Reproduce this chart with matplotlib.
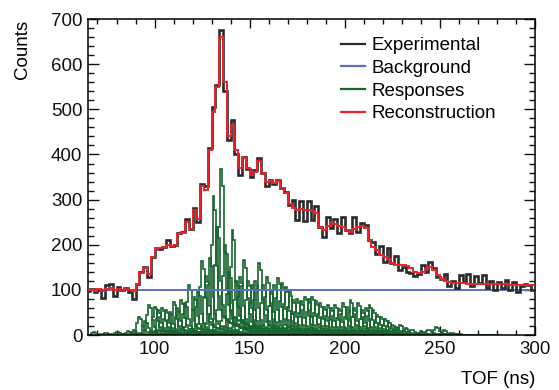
import numpy as np
import matplotlib
matplotlib.use('Agg')
import matplotlib.pyplot as plt
from matplotlib.ticker import MultipleLocator

plt.rcParams['font.family'] = ['Liberation Sans', 'DejaVu Sans']

# Experimental spectrum, 2 ns bins starting at 64 ns
exp_counts = [
    98, 102, 96, 100, 82, 110, 114, 86, 106, 100, 104, 96, 80, 112, 140, 150,
    128, 172, 192, 190, 196, 210, 198, 200, 226, 228, 258, 234, 282, 250, 334, 330,
    415, 505, 555, 676, 540, 432, 477, 400, 355, 395, 368, 350, 365, 392, 360, 330,
    344, 334, 344, 326, 318, 288, 300, 255, 298, 252, 296, 255, 285, 240, 218, 262,
    238, 258, 226, 262, 232, 226, 262, 228, 248, 244, 210, 205, 180, 198, 162, 192,
    160, 175, 145, 150, 140, 138, 130, 136, 155, 140, 162, 148, 128, 124, 135, 108,
    120, 105, 132, 118, 135, 108, 130, 115, 133, 104, 120, 100, 118, 104, 122, 100,
    117, 95, 108, 112, 110, 100,
]

# Reconstruction, same binning
rec_counts = [
    100, 100, 98, 101, 98, 102, 104, 99, 101, 100, 102, 100, 98, 112, 138, 148,
    135, 172, 190, 192, 196, 200, 198, 200, 224, 226, 250, 236, 276, 256, 330, 322,
    410, 495, 550, 660, 560, 440, 465, 410, 370, 392, 370, 355, 362, 385, 360, 340,
    342, 336, 342, 325, 315, 290, 282, 278, 280, 276, 278, 274, 270, 240, 232, 242,
    250, 245, 242, 240, 232, 228, 236, 240, 242, 238, 210, 196, 188, 178, 172, 168,
    160, 156, 155, 155, 152, 148, 140, 137, 140, 146, 150, 145, 132, 124, 120, 118,
    116, 116, 115, 115, 114, 114, 114, 113, 113, 113, 112, 112, 112, 112, 112, 111,
    111, 111, 111, 110, 111, 110,
]
exp_start = 64
exp_width = 2

background = 100

# Response functions: peak position (ns), peak height (counts), common shape (1 ns bins)
resp_peak = [68, 74, 80, 86, 89, 92, 95, 97, 100, 102, 104, 106, 108, 110, 112, 114,
             116, 118, 121, 123, 125, 127, 129, 131, 133, 135, 137, 139, 141, 143, 145,
             147, 149, 151, 153, 155, 157, 159, 161, 163, 165, 167, 169, 171, 173, 175,
             177, 179, 181, 183, 185, 187, 189, 191, 193, 195, 197, 199, 201, 203, 205,
             207, 209, 211, 213, 215, 217, 219, 221, 223, 225, 227, 229, 232, 235, 240,
             244, 248, 252, 256]
resp_height = [6, 5, 7, 8, 10, 40, 30, 67, 63, 55, 60, 55, 50, 73, 60, 77,
               70, 111, 85, 95, 163, 130, 170, 307, 240, 368, 200, 140, 233, 120, 129,
               166, 120, 110, 120, 160, 110, 129, 100, 110, 126, 115, 107, 95, 78, 80,
               75, 85, 80, 85, 75, 70, 62, 66, 60, 66, 58, 70, 62, 78, 60,
               72, 55, 60, 66, 55, 45, 40, 35, 30, 22, 18, 22, 15, 12, 8,
               12, 18, 10, 5]
resp_shape = [0.03, 0.15, 0.65, 1.0, 0.9, 0.5, 0.28, 0.18, 0.14, 0.12, 0.11, 0.1,
              0.09, 0.085, 0.08, 0.07, 0.065, 0.06, 0.05, 0.045, 0.04, 0.035, 0.03,
              0.025, 0.02, 0.02, 0.015, 0.01, 0.01, 0.005]
shape_offset = 3

fig = plt.figure(figsize=(5.59, 3.9), dpi=100)
ax = fig.add_axes([0.1574, 0.141, 0.7996, 0.810])

green = '#17652f'
for p, h in zip(resp_peak, resp_height):
    edges = p - shape_offset - 0.5 + np.arange(len(resp_shape) + 1)
    vals = h * np.array(resp_shape)
    ax.stairs(vals, edges, baseline=0, color=green, lw=1.2, zorder=2)

edges = exp_start + exp_width * np.arange(len(exp_counts) + 1)
ax.axhline(background, color='#5b6fc2', lw=1.4, zorder=3)
ax.stairs(exp_counts, edges, baseline=None, color='#2b2b2b', lw=1.9, zorder=4)
ax.stairs(rec_counts, edges, baseline=None, color='#ec2228', lw=1.4, zorder=5)

ax.set_xlim(65, 300)
ax.set_ylim(0, 700)
ax.xaxis.set_major_locator(MultipleLocator(50))
ax.xaxis.set_minor_locator(MultipleLocator(10))
ax.yaxis.set_major_locator(MultipleLocator(100))
ax.yaxis.set_minor_locator(MultipleLocator(20))
ax.tick_params(axis='both', which='both', direction='in', top=True, right=True,
               labelsize=13.5, width=1.0, colors='#111111')
ax.tick_params(axis='y', which='major', length=8, pad=4)
ax.tick_params(axis='y', which='minor', length=4.5)
ax.tick_params(axis='x', which='major', length=6.5, pad=4)
ax.tick_params(axis='x', which='minor', length=3.5)
for s in ax.spines.values():
    s.set_linewidth(1.1)

# legend proxies
ax.plot([], [], color='#2b2b2b', lw=1.6, label='Experimental')
ax.plot([], [], color='#5b6fc2', lw=1.6, label='Background')
ax.plot([], [], color=green, lw=1.6, label='Responses')
ax.plot([], [], color='#ec2228', lw=1.6, label='Reconstruction')
ax.legend(loc='upper left', bbox_to_anchor=(0.61, 0.905), bbox_transform=fig.transFigure,
          frameon=False, fontsize=13.5, handlelength=1.3, handletextpad=0.35,
          labelspacing=0.3, borderpad=0.0, borderaxespad=0.0)

fig.text(0.04, 0.95, 'Counts', rotation=90, ha='center', va='top', fontsize=13.5)
fig.text(0.957, 0.026, 'TOF (ns)', ha='right', va='center', fontsize=13.5)

fig.savefig('out.png', dpi=100)
